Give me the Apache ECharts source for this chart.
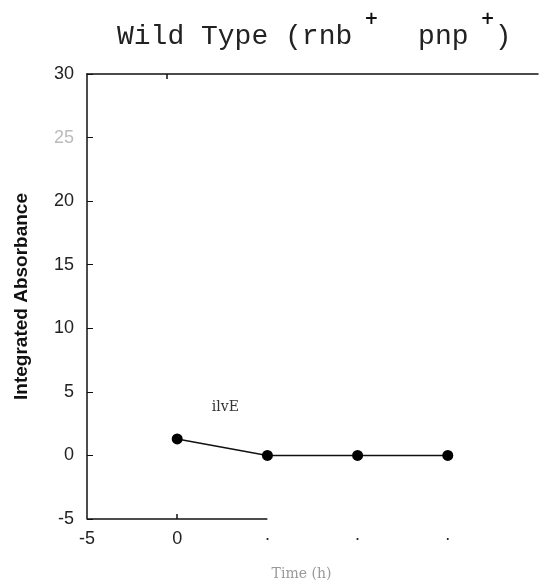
<!DOCTYPE html>
<html>
<head>
<meta charset="utf-8">
<script src="https://cdn.jsdelivr.net/npm/echarts@6/dist/echarts.min.js"></script>
<style>
  html, body { margin: 0; padding: 0; background: #fff; }
  #chart { width: 544px; height: 588px; }
</style>
</head>
<body>
<div id="chart"></div>
<script>
// 數據
const timePoints = [0, 5, 10, 15];
const absorbance = [1.3, 0, 0, 0];
const xTicks = [-5, 0];
const fadedTicks = [5, 10, 15];
const seriesName = 'ilvE';

const chart = echarts.init(document.getElementById('chart'));

chart.setOption({
    animation: false,
    title: {
        text: '{m|Wild Type (rnb}{s|+}{m|  pnp}{t|+}{m|)}',
        left: 112,
        top: 6,
        textStyle: {
            fontWeight: 'normal',
            rich: {
                m: { fontFamily: 'Liberation Mono', fontWeight: 'normal', fontSize: 28, color: '#222', lineHeight: 40, verticalAlign: 'bottom' },
                s: { fontFamily: 'DejaVu Sans', fontWeight: 'bold', fontSize: 17, color: '#111', lineHeight: 34, verticalAlign: 'top', padding: [0, 6, 0, 12] },
                t: { fontFamily: 'DejaVu Sans', fontWeight: 'bold', fontSize: 17, color: '#111', lineHeight: 34, verticalAlign: 'top', padding: [0, 0, 0, 12] }
            }
        }
    },
    grid: { left: 87, right: 6, top: 74, bottom: 69 },
    xAxis: [{
        type: 'value',
        min: -5, max: 20, interval: 5,
        name: 'Time (h)',
        nameLocation: 'middle',
        nameGap: 48,
        nameTextStyle: { color: '#999', fontSize: 14, fontFamily: 'DejaVu Serif', padding: [0, 22, 0, 0] },
        axisLine: { show: false },
        axisTick: { show: false },
        splitLine: { show: false },
        axisLabel: {
            color: '#222', fontSize: 18, fontFamily: 'Liberation Sans', margin: 11,
            formatter: v => xTicks.includes(v) ? String(v) : (fadedTicks.includes(v) ? '·' : '')
        }
    }, {
        type: 'value',
        position: 'top',
        min: -5, max: 20, interval: 5,
        axisLine: { show: true, onZero: false, lineStyle: { color: '#111', width: 1.5 } },
        axisTick: { show: false },
        axisLabel: { show: false },
        splitLine: { show: false }
    }],
    yAxis: {
        type: 'value',
        min: -5, max: 30, interval: 5,
        name: 'Integrated Absorbance',
        nameLocation: 'middle',
        nameGap: 56,
        nameTextStyle: { color: '#111', fontSize: 19, fontWeight: 'bold', fontFamily: 'Liberation Sans' },
        axisLine: { show: true, onZero: false, lineStyle: { color: '#111', width: 1.5 } },
        axisTick: { show: true, inside: true, length: 6, lineStyle: { color: '#111' } },
        splitLine: { show: false },
        axisLabel: {
            fontSize: 18, fontFamily: 'Liberation Sans', margin: 13,
            color: v => v == 25 ? '#bbb' : '#222'
        }
    },
    series: [{
        name: seriesName,
        type: 'line',
        data: timePoints.map((t, i) => [t, absorbance[i]]),
        symbol: 'circle',
        symbolSize: 11,
        itemStyle: { color: '#000' },
        lineStyle: { color: '#111', width: 1.5 },
        markPoint: {
            symbol: 'rect', symbolSize: 1,
            itemStyle: { color: 'transparent' },
            label: { show: true, formatter: seriesName, color: '#333', fontSize: 14, fontFamily: 'DejaVu Serif' },
            data: [{ coord: [2.67, 3.8] }]
        },
        markLine: {
            silent: true,
            symbol: 'none',
            label: { show: false },
            lineStyle: { color: '#111', width: 1.5, type: 'solid' },
            data: [
                [{ coord: [-5, -5] }, { coord: [5, -5] }],
                [{ coord: [0, -5] }, { coord: [0, -4.6] }],
                [{ coord: [-0.6, 30] }, { coord: [-0.6, 29.6] }]
            ]
        }
    }]
});
</script>
</body>
</html>
